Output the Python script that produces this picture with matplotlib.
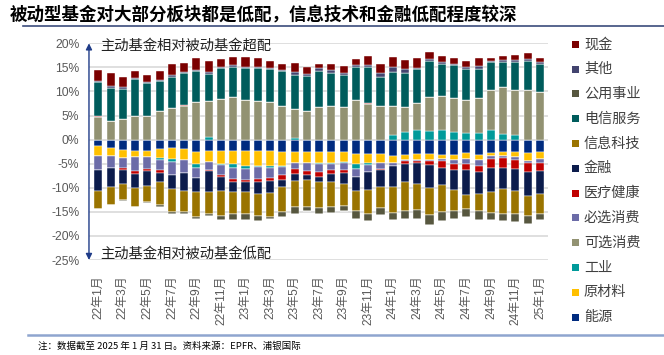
import matplotlib
matplotlib.use("Agg")
import matplotlib.pyplot as plt
from matplotlib.lines import Line2D
from matplotlib.patches import Rectangle
import numpy as np

plt.rcParams['font.family'] = ['Noto Sans CJK SC', 'DejaVu Sans']

# month labels, 22年1月 .. 25年1月
months = [f"{y}年{m}月" for y in (22, 23, 24) for m in range(1, 13)] + ["25年1月"]

# 主动基金相对被动基金的配置差 (%), stacking order as in the source chart
energy = [-1.4, -1.7, -2.2, -2.3, -2.4, -1.9, -1.7, -2.0, -2.6, -2.4, -2.4, -2.4, -2.4, -2.4, -2.4, -2.6, -2.5,
          -2.6, -2.5, -2.5, -2.6, -3.0, -3.0, -3.0, -3.5, -3.1, -3.0, -3.0, -3.1, -3.1, -2.8, -3.1, -2.7, -2.5, -2.6, -2.8, -2.5]
materials = [-2.0, -1.7, -1.6, -1.4, -1.3, -1.9, -2.3, -2.3, -2.4, -2.2, -2.6, -2.7, -3.0, -3.0, -3.1, -2.9, -2.4,
             -2.3, -2.4, -2.3, -2.0, -2.1, -1.9, -1.8, -1.4, -1.1, -1.2, -1.2, -1.0, -1.1, -1.2, -1.1, -0.8, -1.0, -1.1, -1.6, -1.5]
industrials = [0, 0, 0, 0, 0, -0.4, -0.55, 0, -0.8, 0.5, -0.35, -0.7, -0.6, -0.2, -0.4, -0.2, 0.3,
               0, -0.2, -0.2, -0.3, -1.1, -0.35, 0, 1.0, 1.6, 1.9, 1.7, 2.0, 1.6, 1.4, 1.3, 2.1, 1.1, 1.0, 0, 0]
cons_disc = [4.6, 3.9, 4.3, 4.9, 5.0, 5.9, 6.5, 6.9, 7.9, 7.5, 8.4, 8.9, 8.3, 8.0, 7.9, 7.0, 6.0,
             6.0, 6.8, 7.0, 6.8, 8.2, 7.4, 6.9, 5.9, 5.2, 5.8, 7.1, 7.0, 7.0, 6.9, 7.3, 8.2, 9.8, 9.4, 10.3, 9.9]
cons_staples = [-3.0, -2.5, -2.1, -2.8, -2.5, -2.2, -2.7, -2.6, -2.1, -1.7, -2.1, -2.4, -2.3, -2.5, -2.1, -1.6, -1.3,
                -1.7, -1.7, -1.3, -1.5, -1.5, -1.5, -1.4, -0.5, -0.15, -0.15, -0.15, -0.3, -0.9, -1.1, -1.2, -0.5, -0.35, -0.55, -0.55, -0.8]
health = [0.25, 0, -0.5, -0.55, -0.4, -0.5, -0.1, 0.2, -0.1, -0.2, -0.3, -0.5, -0.5, -0.6, -0.5, -1.0, -0.9,
          -0.8, -0.9, -0.8, -0.6, -0.1, 0.3, -0.1, -0.1, -0.8, -0.6, -1.0, -1.4, -1.3, -1.2, -1.3, -1.9, -2.0, -1.9, -1.8, -1.8]
financials = [-4.2, -4.0, -2.9, -3.0, -3.0, -1.8, -2.9, -3.7, -2.8, -4.3, -3.0, -2.1, -2.1, -2.5, -2.6, -1.5, -1.4,
              -1.0, -1.1, -1.7, -2.2, -2.8, -3.8, -3.6, -4.3, -3.7, -4.3, -4.6, -3.7, -4.0, -5.1, -4.5, -4.9, -4.5, -4.5, -5.0, -4.6]
info_tech = [-3.8, -3.7, -3.2, -3.9, -3.3, -4.8, -4.8, -4.4, -5.2, -4.6, -5.1, -4.6, -4.5, -4.6, -4.9, -5.2, -5.5,
             -5.5, -5.5, -5.2, -4.5, -4.3, -4.8, -4.2, -5.4, -5.9, -5.3, -5.7, -5.5, -4.5, -3.1, -3.7, -4.5, -5.2, -4.8, -4.2, -4.2]
telecom = [7.05, 6.9, 6.3, 7.6, 6.8, 6.3, 6.6, 6.8, 6.3, 5.7, 6.4, 6.2, 6.5, 6.8, 6.7, 7.2, 7.2,
           7.3, 7.5, 6.9, 6.7, 6.9, 7.4, 6.2, 7.1, 7.1, 6.9, 7.5, 6.8, 6.8, 6.3, 6.1, 5.8, 5.3, 5.8, 6.0, 5.9]
utilities = [0, 0, -0.15, -0.1, -0.2, -0.55, -0.35, -0.4, -0.55, -0.5, -0.8, -1.2, -1.2, -1.0, -0.5, -1.0, -1.4,
             -0.9, -1.1, -1.2, -1.2, -1.5, -1.5, -1.6, -1.5, -1.8, -1.9, -2.1, -1.9, -1.6, -1.5, -1.7, -1.4, -1.4, -1.7, -1.5, -1.2]
others = [0.3, 0.3, 0.3, 0.2, 0.2, 0.2, 0.3, 0.2, 0.3, 0.3, 0.2, 0.3, 0.3, 0.3, 0.3, 0.2, 0.5,
          0.35, 0.6, 0.5, 0.4, 0.35, 0.4, 0.7, 1.0, 0.7, 0.35, 0.35, 0.4, 0.4, 0.4, 0.5, 0.2, 0.35, 0.35, 0.35, 0.3]
cash = [2.25, 2.8, 2.0, 1.6, 1.4, 1.8, 2.2, 1.9, 2.5, 2.3, 1.7, 1.7, 2.0, 1.9, 1.5, 1.2, 2.0,
        1.45, 0.9, 1.2, 1.4, 1.25, 1.9, 1.9, 2.1, 1.9, 1.95, 1.45, 1.2, 1.1, 1.4, 1.8, 0.7, 0.85, 1.05, 1.25, 0.9]

sectors = ["能源", "原材料", "工业", "可选消费", "必选消费", "医疗健康", "金融", "信息科技",
           "电信服务", "公用事业", "其他", "现金"]
series = [energy, materials, industrials, cons_disc, cons_staples, health, financials, info_tech,
          telecom, utilities, others, cash]
colors = ["#002b7f", "#ffc000", "#009a9a", "#929272", "#6c6ca8", "#c00000", "#0c1c4c", "#9a7400",
          "#005c5c", "#57573f", "#43446f", "#7b0000"]

fig = plt.figure(figsize=(6.64, 3.55), dpi=100)
ax = fig.add_axes([0.134, 0.2676, 0.691, 0.6104])

x = np.arange(len(months))
pos = np.zeros(len(x))
neg = np.zeros(len(x))
for name, col, vals in zip(sectors, colors, series):
    v = np.array(vals, dtype=float)
    p = np.where(v > 0, v, 0)
    n = np.where(v < 0, v, 0)
    ax.bar(x, p, 0.66, bottom=pos, color=col, edgecolor='white', linewidth=0.3, zorder=2)
    ax.bar(x, n, 0.66, bottom=neg, color=col, edgecolor='white', linewidth=0.3, zorder=2)
    pos += p
    neg += n

ax.set_xlim(-0.76, 36.64)
ax.set_ylim(-25, 20)
yt = list(range(-25, 21, 5))
ax.set_yticks(yt)
ax.set_yticklabels([f"{v}%" for v in yt], family=['Liberation Sans', 'DejaVu Sans'],
                   fontsize=8.7, color='#595959')
ax.set_xticks(x[::2])
ax.set_xticklabels(months[::2], rotation=90, fontsize=8.6, color='#595959',
                   family=['Liberation Sans', 'Noto Sans CJK SC'])
ax.tick_params(axis='y', length=0, pad=7)
ax.tick_params(axis='x', length=0, pad=11)
ax.yaxis.grid(True, color='#d9d9d9', lw=1.2, zorder=0)
ax.set_axisbelow(True)
for s in ax.spines.values():
    s.set_visible(False)

# double arrow along the y axis
ax.annotate('', xy=(0, 1.0), xytext=(0, 0.0), xycoords='axes fraction',
            arrowprops=dict(arrowstyle='<|-|>', color='#1f3c88', lw=1.0, mutation_scale=9,
                            shrinkA=0, shrinkB=0), annotation_clip=False)
ax.text(0.024, 0.99, "主动基金相对被动基金超配", transform=ax.transAxes, fontsize=10.3,
        va='center', ha='left', color='#222222')
ax.text(0.024, 0.028, "主动基金相对被动基金低配", transform=ax.transAxes, fontsize=10.3,
        va='center', ha='left', color='#222222')

# legend, drawn top to bottom in reverse stacking order
for i, (name, col) in enumerate(zip(sectors[::-1], colors[::-1])):
    yc = 1 - (44.3 + i * 24.8) / 355
    fig.add_artist(Rectangle((572 / 664, yc - 3.5 / 355), 7 / 664, 7 / 355,
                             transform=fig.transFigure, facecolor=col, edgecolor='none'))
    fig.text(584 / 664, yc, name, fontsize=10.2, va='center', ha='left', color='#404040')

fig.text(10 / 664, 1 - 15 / 355, "被动型基金对大部分板块都是低配，信息技术和金融低配程度较深",
         fontsize=12.6, fontweight='bold', va='center', ha='left')
fig.add_artist(Line2D([23 / 664, 1], [1 - 26 / 355] * 2, color='#3b4c7c', lw=1.2))
fig.add_artist(Line2D([28 / 664, 1], [1 - 335 / 355] * 2, color='#8fa5cf', lw=1.8))
fig.text(38 / 664, 1 - 346 / 355, "注：数据截至 2025 年 1 月 31 日。资料来源：EPFR、浦银国际",
         fontsize=6.8, va='center', ha='left')

fig.savefig("out.png", dpi=100)
